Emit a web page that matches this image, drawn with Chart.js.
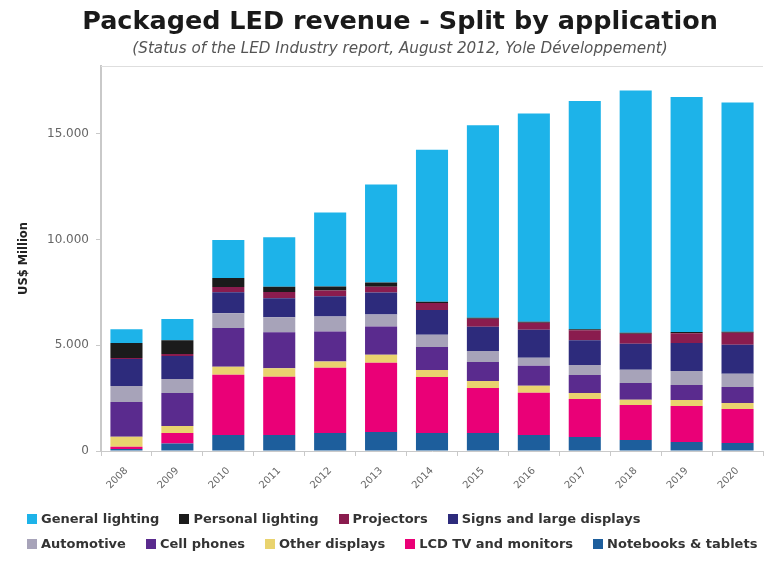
<!DOCTYPE html>
<html>
<head>
<meta charset="utf-8">
<script src="https://cdn.jsdelivr.net/npm/chart.js@4.4.1/dist/chart.umd.min.js"></script>
<style>
  html, body { margin: 0; padding: 0; background: #fff; }
  body {
    width: 767px; height: 571px; position: relative; overflow: hidden;
    font-family: 'DejaVu Sans', Verdana, sans-serif;
  }
  #chart { position: absolute; left: 0; top: 0; }
  .heading { position: absolute; left: 0; width: 800px; text-align: center; white-space: nowrap; }
  #title { top: 5px; font-size: 25.5px; font-weight: bold; color: #1a1a1a; }
  #subtitle { top: 39px; font-size: 15.2px; font-style: italic; color: #555; }
  #legend { position: absolute; left: 27px; top: 506px; }
  .legend-row { display: flex; align-items: center; height: 25px; white-space: nowrap; }
  .legend-item { display: flex; align-items: center; margin-right: 20px; font-size: 13px; font-weight: bold; color: #333; }
  .legend-item i { display: inline-block; width: 10px; height: 10px; margin-right: 4px; }
</style>
</head>
<body>
<canvas id="chart" width="767" height="571"></canvas>
<div id="title" class="heading">Packaged LED revenue - Split by application</div>
<div id="subtitle" class="heading">(Status of the LED Industry report, August 2012, Yole Développement)</div>
<div id="legend"></div>
<script>
const YEARS = ['2008', '2009', '2010', '2011', '2012', '2013', '2014', '2015', '2016', '2017', '2018', '2019', '2020'];

// US$ million per application, stacked bottom to top
const NOTEBOOKS = [100, 350, 760, 760, 850, 900, 850, 850, 760, 660, 520, 430, 380];
const LCD_TV = [100, 500, 2840, 2750, 3080, 3270, 2650, 2130, 1990, 1800, 1660, 1700, 1610];
const OTHER_DISPLAYS = [470, 330, 380, 400, 300, 380, 330, 330, 330, 280, 240, 280, 280];
const CELL_PHONES = [1650, 1560, 1830, 1700, 1420, 1330, 1090, 900, 950, 850, 800, 710, 760];
const AUTOMOTIVE = [750, 660, 700, 710, 710, 570, 570, 520, 380, 470, 620, 660, 620];
const SIGNS = [1280, 1090, 1000, 900, 950, 1040, 1180, 1140, 1320, 1180, 1230, 1320, 1370];
const PROJECTORS = [50, 100, 240, 300, 280, 280, 330, 380, 330, 470, 470, 470, 570];
const PERSONAL_LIGHTING = [700, 650, 430, 240, 190, 190, 50, 50, 50, 50, 50, 50, 50];
const GENERAL_LIGHTING = [660, 1000, 1800, 2340, 3500, 4640, 7190, 9100, 9850, 10790, 11450, 11120, 10840];

const Y_TICKS = [0, 5000, 10000, 15000];
const Y_MAX = 18200;

const SERIES = [
  { label: 'Notebooks & tablets', data: NOTEBOOKS, color: '#1d5e9c' },
  { label: 'LCD TV and monitors', data: LCD_TV, color: '#ea0077' },
  { label: 'Other displays', data: OTHER_DISPLAYS, color: '#e9d36e' },
  { label: 'Cell phones', data: CELL_PHONES, color: '#5a2b8e' },
  { label: 'Automotive', data: AUTOMOTIVE, color: '#a7a3b9' },
  { label: 'Signs and large displays', data: SIGNS, color: '#2d2b7c' },
  { label: 'Projectors', data: PROJECTORS, color: '#8a1c4e' },
  { label: 'Personal lighting', data: PERSONAL_LIGHTING, color: '#1b1b1b' },
  { label: 'General lighting', data: GENERAL_LIGHTING, color: '#1db3e9' },
];

const AXIS_GREY = '#c9c9c9';
const FONT_FAMILY = "'DejaVu Sans', Verdana, sans-serif";

const thousands = v => String(v).replace(/\B(?=(\d{3})+(?!\d))/g, '.');

// thin frame line along the top of the plot
const topFrame = {
  id: 'topFrame',
  afterDraw(chart) {
    const { ctx, chartArea } = chart;
    ctx.save();
    ctx.strokeStyle = '#dedede';
    ctx.lineWidth = 1;
    ctx.beginPath();
    ctx.moveTo(chartArea.left, chartArea.top + 0.5);
    ctx.lineTo(chartArea.right, chartArea.top + 0.5);
    ctx.stroke();
    ctx.restore();
  },
};

const chart = new Chart(document.getElementById('chart'), {
  type: 'bar',
  data: {
    labels: YEARS,
    datasets: SERIES.map(s => ({
      label: s.label,
      data: s.data,
      backgroundColor: s.color,
      borderWidth: 0,
      barPercentage: 0.63,
      categoryPercentage: 1,
    })),
  },
  options: {
    responsive: false,
    animation: false,
    layout: { padding: { top: 66, right: 4, bottom: 60, left: 0 } },
    plugins: {
      legend: { display: false },
      tooltip: { enabled: false },
    },
    scales: {
      x: {
        stacked: true,
        grid: { drawOnChartArea: false, tickLength: 5, color: AXIS_GREY },
        border: { color: AXIS_GREY, width: 1 },
        ticks: { minRotation: 45, maxRotation: 45, padding: 9, color: '#666', font: { family: FONT_FAMILY, size: 10 } },
        afterFit: scale => { scale.height = 60; },
      },
      y: {
        stacked: true,
        min: 0,
        max: Y_MAX,
        afterBuildTicks: axis => { axis.ticks = Y_TICKS.map(value => ({ value })); },
        grid: { drawOnChartArea: false, tickLength: 5, color: AXIS_GREY },
        border: { color: AXIS_GREY, width: 2 },
        ticks: { padding: 7, color: '#666', font: { family: FONT_FAMILY, size: 12 }, callback: v => thousands(v) },
        title: {
          display: true,
          text: 'US$ Million',
          color: '#222',
          font: { family: FONT_FAMILY, size: 11.5, weight: 'bold' },
          padding: { top: 17, bottom: 0 },
        },
        afterFit: scale => { scale.width = 101; },
      },
    },
  },
  plugins: [topFrame],
});

// legend in two rows, top of the stack first
const legendItems = [...chart.data.datasets].reverse();
const rows = [legendItems.slice(0, 4), legendItems.slice(4)];
document.getElementById('legend').innerHTML = rows.map(row =>
  `<div class="legend-row">${row.map(ds =>
    `<span class="legend-item"><i style="background:${ds.backgroundColor}"></i>${ds.label.replace('&', '&amp;')}</span>`
  ).join('')}</div>`
).join('');
</script>
</body>
</html>
